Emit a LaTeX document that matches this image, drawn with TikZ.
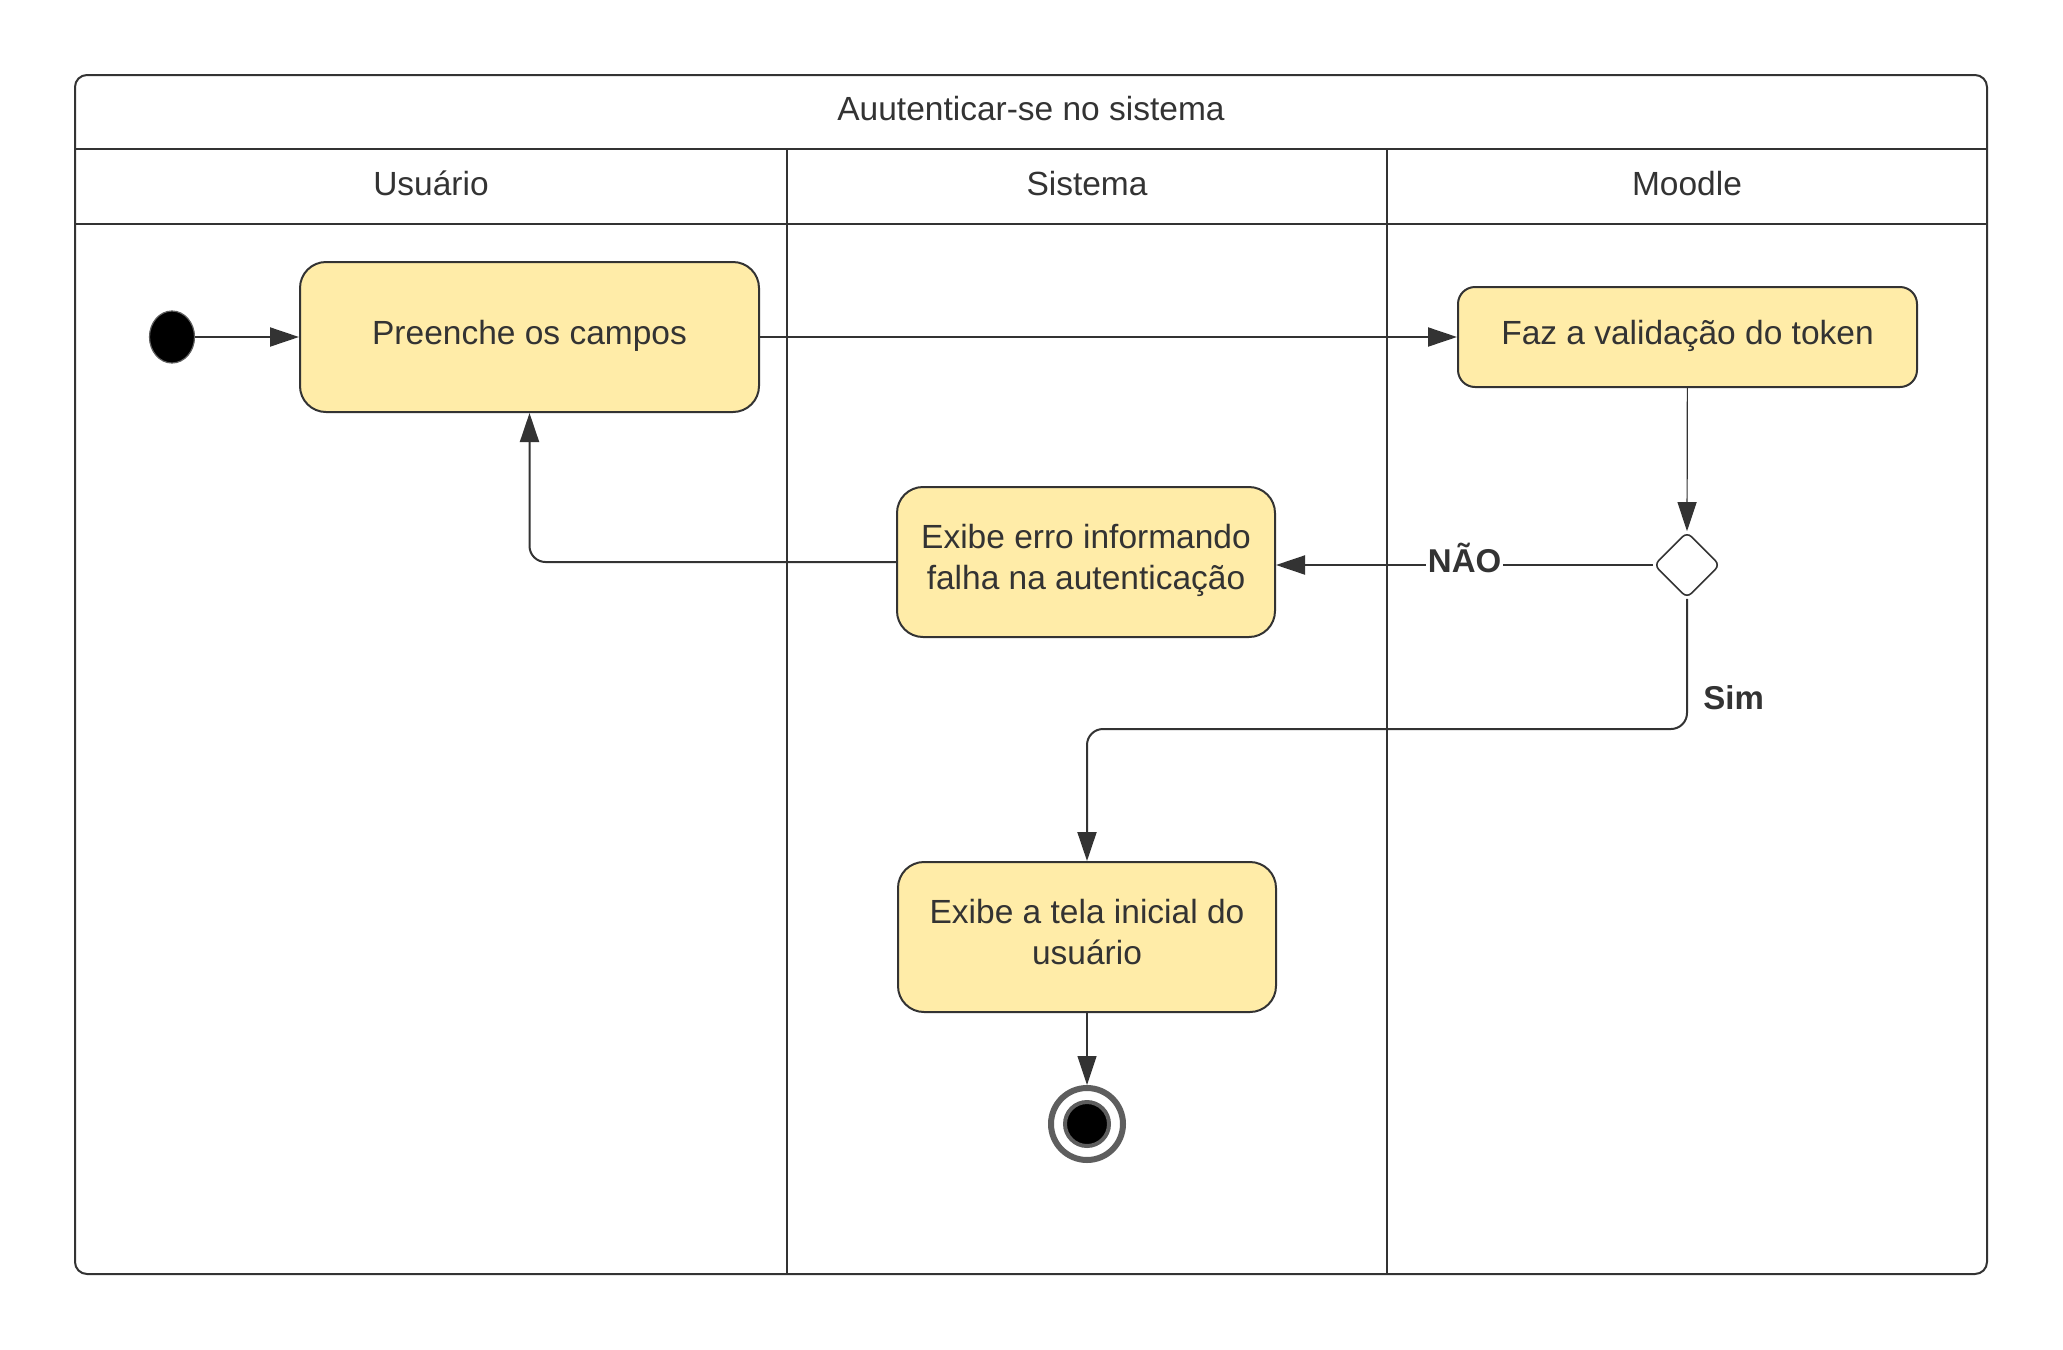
\documentclass[tikz,border=0pt]{standalone}
\usepackage{fontspec}
\setmainfont{Liberation Sans}
\usetikzlibrary{arrows.meta,shapes.geometric}
\definecolor{boxfill}{HTML}{FFECA8}
\definecolor{ink}{HTML}{333333}
\definecolor{ringgray}{HTML}{5E5E5E}
\newcommand{\liftxt}[2]{\raisebox{#1}[\height][\depth]{\begin{tabular}{@{}c@{}}#2\end{tabular}}}
\tikzset{
  txt/.style={font=\fontsize{16.75pt}{20.5pt}\selectfont, text=ink, align=center},
  actbox/.style={txt, draw=ink, line width=1pt, fill=boxfill, rectangle, rounded corners=13pt, inner sep=0pt},
  conn/.style={draw=ink, line width=1pt, -{Triangle[length=14.5pt,width=9.5pt]}},
  thinconn/.style={conn, line width=0.6pt},
  guard/.style={txt, font=\fontsize{16.5pt}{20pt}\selectfont\bfseries, fill=white, inner sep=1pt},
  frameline/.style={draw=ink, line width=1pt},
  laneline/.style={draw=ink, line width=0.6pt},
}
\begin{document}
\begin{tikzpicture}[x=0.5pt,y=-0.5pt]
\useasboundingbox (0,0) rectangle (2063,1350);
% frame
\draw[frameline, rounded corners=6pt] (75,75) rectangle (1987,1274);
\draw[frameline] (75,149) -- (1987,149);
\draw[frameline] (75,224) -- (1987,224);
\draw[laneline] (787,149) -- (787,1274);
\draw[laneline] (1387,149) -- (1387,1274);
\node[txt] (title) at (1031,108.5) {Auutenticar-se no sistema};
\node[txt] (h1) at (431,183.5) {Usuário};
\node[txt] (h2) at (1087,183.5) {Sistema};
\node[txt] (h3) at (1687,183.5) {Moodle};
% nodes
\node[ellipse, fill=black, draw=ringgray, line width=0.6pt, minimum width=22.5pt, minimum height=26pt, inner sep=0pt] (s) at (172,337) {};
\node[actbox, minimum width=229.5pt, minimum height=75pt] (b1) at (529.5,337) {\liftxt{0.6pt}{Preenche os campos}};
\node[actbox, rounded corners=8.5pt, minimum width=229.5pt, minimum height=50pt] (b2) at (1687.5,337) {\liftxt{0.6pt}{Faz a validação do token}};
\node[diamond, draw=ink, line width=0.8pt, fill=white, rounded corners=3pt, minimum width=33pt, minimum height=33pt, inner sep=0pt] (d) at (1687,565) {};
\node[actbox, minimum width=189pt, minimum height=75pt] (b3) at (1086,562) {\liftxt{0.7pt}{Exibe erro informando\\falha na autenticação}};
\node[actbox, minimum width=189pt, minimum height=75pt] (b4) at (1087,937) {\liftxt{0.6pt}{Exibe a tela inicial do\\usuário}};
\node[circle, draw=ringgray, line width=3pt, fill=white, minimum size=36pt, inner sep=0pt] (e) at (1087,1124) {};
\node[circle, draw=ringgray, line width=2pt, fill=black, minimum size=22pt, inner sep=0pt] (ein) at (1087,1124) {};
% connectors
\draw[conn] (s) -- (b1);
\draw[conn] (b1) -- (b2);
\draw[thinconn] (b2) -- (d.north);
\draw[conn] (d.west) -- node[guard, yshift=3.5pt] (nao) {NÃO} (d.west -| b3.east);
\draw[conn, rounded corners=8pt] (b3.west) -| (b1.south);
\coordinate (simturn) at (1687,729);
\draw[conn, rounded corners=8pt] (d.south) -- (simturn) -| (b4.north);
\node[guard, fill=none, anchor=west] (sim) at (1701,698) {Sim};
\draw[thinconn] (b4) -- (e);
\end{tikzpicture}
\end{document}
